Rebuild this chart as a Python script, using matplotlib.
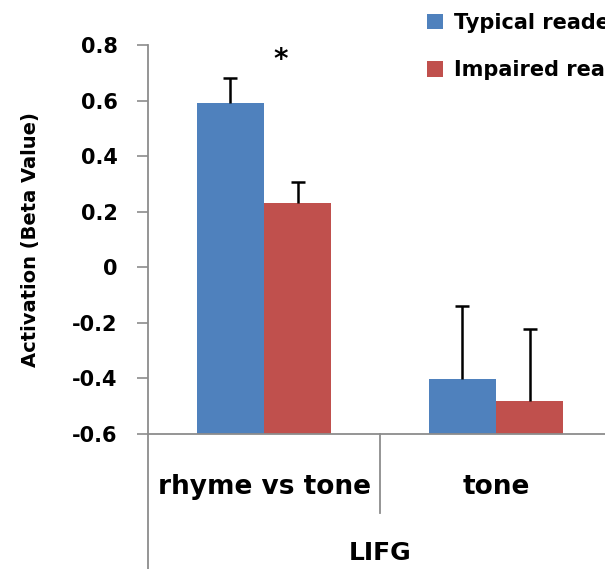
import numpy as np
import matplotlib
matplotlib.use('Agg')
import matplotlib.pyplot as plt
from matplotlib.lines import Line2D

# Data
categories = ['rhyme vs tone', 'tone']
group_label = 'LIFG'
series_names = ['Typical readers', 'Impaired readers']
typical = [0.59, -0.403]
impaired = [0.23, -0.481]
typical_err = [0.093, 0.263]
impaired_err = [0.076, 0.258]
y_ticks = [-0.6, -0.4, -0.2, 0, 0.2, 0.4, 0.6, 0.8]
y_tick_labels = ['-0.6', '-0.4', '-0.2', '0', '0.2', '0.4', '0.6', '0.8']

blue = '#4F81BD'
red = '#C0504D'
axis_gray = '#8C8C8C'

plt.rcParams['font.family'] = ['DejaVu Sans']
plt.rcParams['font.weight'] = 'bold'

W, H = 605, 569
fig = plt.figure(figsize=(W / 100, H / 100), dpi=100)
# axes extends a little past the right edge, like the cropped original
ax = fig.add_axes([148 / W, 1 - 434 / H, (612 - 148) / W, (434 - 45) / H])

ymin, ymax = y_ticks[0], y_ticks[-1]
x = np.arange(len(categories))
bw = 0.29

# Excel style: bars rise from the bottom of the value axis
for off, vals, errs, col, name in [(-bw / 2, typical, typical_err, blue, series_names[0]),
                                   (bw / 2, impaired, impaired_err, red, series_names[1])]:
    vals = np.array(vals)
    errs = np.array(errs)
    ax.bar(x + off, vals - ymin, bw, bottom=ymin, color=col, label=name, zorder=2)
    # upper-only error bars
    ax.vlines(x + off, vals, vals + errs, color='black', lw=1.8, zorder=3)
    ax.plot(x + off, vals + errs, linestyle='none', marker='_', markersize=10,
            markeredgewidth=1.8, color='black', zorder=3)

ax.text(0.07, 0.745, '*', ha='center', va='center', fontsize=20, fontweight='bold')

ax.set_xlim(-0.5, 1.5)
ax.set_ylim(ymin, ymax)
ax.set_yticks(y_ticks)
ax.set_yticklabels(y_tick_labels, fontsize=15, fontweight='bold')
ax.tick_params(axis='y', direction='out', length=8, width=1.2, color=axis_gray, pad=14)
ax.set_xticks([])

for side in ['top', 'right']:
    ax.spines[side].set_visible(False)
for side in ['left', 'bottom']:
    ax.spines[side].set_color(axis_gray)
    ax.spines[side].set_linewidth(1.3)

ax.set_ylabel('Activation (Beta Value)', fontsize=14, fontweight='bold', labelpad=23)

# multi-level category axis
trans = ax.get_xaxis_transform()
for xc, name in zip(x, categories):
    ax.text(xc, -0.135, name, transform=trans, ha='center', va='center',
            fontsize=19, fontweight='bold')
ax.add_line(Line2D([0.5, 0.5], [0, -0.204], transform=trans, color=axis_gray,
                   lw=1.3, clip_on=False))
ax.add_line(Line2D([-0.5, -0.5], [0, -0.35], transform=trans, color=axis_gray,
                   lw=1.3, clip_on=False))
ax.text(0.5, -0.305, group_label, transform=trans, ha='center', va='center',
        fontsize=18, fontweight='bold')

# legend is cropped at the right edge, as in the original
leg = ax.legend(loc='upper left', bbox_to_anchor=(408 / W, 1 + 6 / H),
                bbox_transform=fig.transFigure, frameon=False,
                handlelength=0.8, handleheight=0.8, handletextpad=0.5,
                labelspacing=1.3, prop={'size': 15, 'weight': 'bold'})

fig.savefig('out.png', dpi=100)
